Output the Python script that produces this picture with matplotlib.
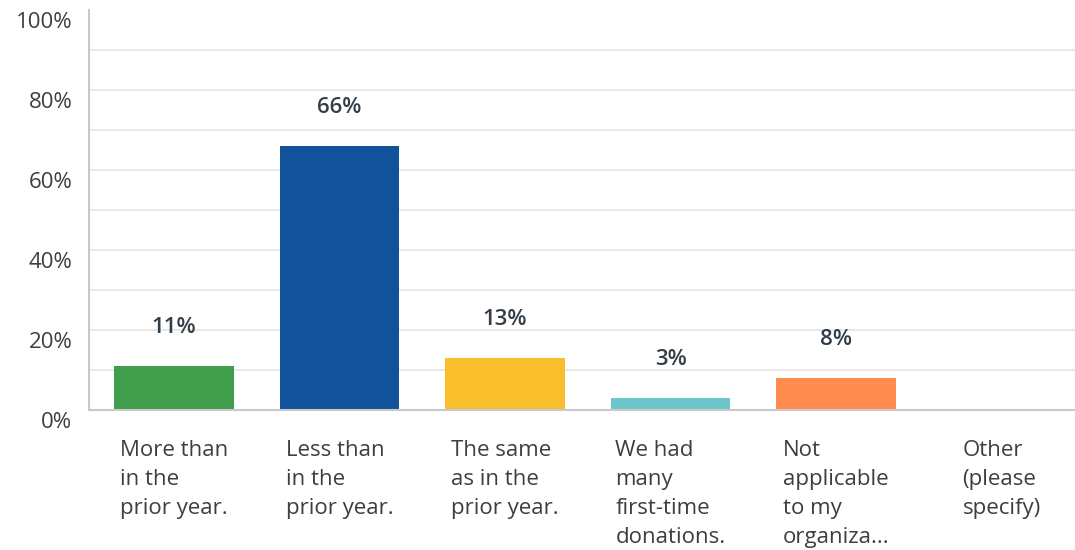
import matplotlib
matplotlib.use("Agg")
import matplotlib.pyplot as plt
from matplotlib.transforms import ScaledTranslation, blended_transform_factory

categories = ["More than\nin the\nprior year.", "Less than\nin the\nprior year.",
              "The same\nas in the\nprior year.", "We had\nmany\nfirst-time\ndonations.",
              "Not\napplicable\nto my\norganiza...", "Other\n(please\nspecify)"]
values = [11, 66, 13, 3, 8, 0]
value_labels = ["11%", "66%", "13%", "3%", "8%", ""]
colors = ["#3f9d4b", "#12529b", "#f9be2c", "#6bc6cb", "#ff8b4f", "#cccccc"]
ytick_vals = [0, 20, 40, 60, 80, 100]
ytick_labels = ["0%", "20%", "40%", "60%", "80%", "100%"]
grid_vals = [10, 20, 30, 40, 50, 60, 70, 80, 90]

plt.rcParams['font.family'] = ['Open Sans', 'DejaVu Sans']

fig = plt.figure(figsize=(10.75, 5.5), dpi=100)
ax = fig.add_axes([89/1075, (550-410)/550, (1075-89)/1075, 400/550])

x = list(range(len(categories)))
ax.set_xlim(-85/165.5, (1075-174)/165.5)
ax.set_ylim(0, 100)

for g in grid_vals:
    ax.axhline(g, color="#e9e9e9", lw=1.5, zorder=0)

ax.bar(x, values, width=0.72, color=colors, zorder=2)

for xi, v, lab in zip(x, values, value_labels):
    if lab:
        ax.annotate(lab, (xi, v), xytext=(0, 28), textcoords="offset points",
                    ha="center", va="center", fontsize=16, fontweight="semibold",
                    color="#333e48")

for s in ["top", "right"]:
    ax.spines[s].set_visible(False)
for s in ["left", "bottom"]:
    ax.spines[s].set_color("#c9c9c9")
    ax.spines[s].set_linewidth(1.5)

ax.set_yticks(ytick_vals)
ax.set_yticklabels(ytick_labels, fontsize=16, color="#3e3e3e")
ax.tick_params(axis="y", length=0, pad=12)
off = ScaledTranslation(0, -10/100, fig.dpi_scale_trans)
for t in ax.get_yticklabels():
    t.set_transform(t.get_transform() + off)

ax.set_xticks([])
trans = blended_transform_factory(ax.transData, ax.transAxes)
for xi, cat in zip(x, categories):
    ax.annotate(cat, (xi, 0), xycoords=trans, xytext=(0, -21.5), textcoords="offset points",
                ha="center", va="top", multialignment="left", fontsize=16,
                color="#3e3e3e", linespacing=1.5, annotation_clip=False)

fig.savefig("out.png", dpi=100, facecolor="white")
